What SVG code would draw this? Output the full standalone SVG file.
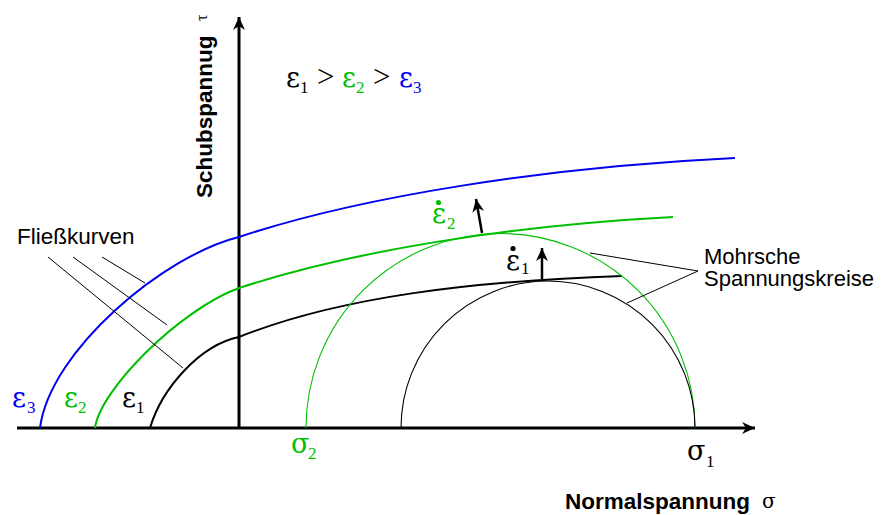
<svg xmlns="http://www.w3.org/2000/svg" width="883" height="515" viewBox="0 0 883 515">
<style>
.sans{font-family:"Liberation Sans",Arial,sans-serif;font-size:22px;fill:#000}
.bold{font-weight:bold;font-size:22.5px}
.sym{font-family:"Liberation Serif","Times New Roman",serif;font-size:28px}
.gt{font-family:"Liberation Serif","Times New Roman",serif;font-size:31px}
.gr{font-family:"DejaVu Serif","Liberation Serif",serif;font-size:27px}
.sub{font-family:"Liberation Serif","Times New Roman",serif;font-size:17px}
.k{fill:#000}.g{fill:#00bf00}.b{fill:#0000f0}
.axis{stroke:#000;stroke-width:3;fill:none}
.curve{fill:none;stroke-width:2}
.circ{fill:none;stroke-width:1.1}
.lead{stroke:#000;stroke-width:1;fill:none}
.arr{stroke:#000;stroke-width:2.5;fill:none}
</style>
<defs>
<marker id="ah" markerUnits="userSpaceOnUse" markerWidth="16" markerHeight="14" viewBox="-13 -7 14 14" refX="0" refY="0" orient="auto">
<path d="M0,0 L-13,-6 L-9,0 L-13,6 Z" fill="#000"/>
</marker>
<marker id="ah2" markerUnits="userSpaceOnUse" markerWidth="14" markerHeight="14" viewBox="-12 -6 13 12" refX="0" refY="0" orient="auto">
<path d="M0,0 L-12,-5.5 L-8.5,0 L-12,5.5 Z" fill="#000"/>
</marker>
</defs>

<g id="axes">
<line class="axis" x1="17" y1="428" x2="755" y2="428" marker-end="url(#ah)"/>
<line class="axis" x1="239" y1="428" x2="239" y2="17" marker-end="url(#ah)"/>
</g>

<g id="curves">
<path id="curve-e3" class="curve" stroke="#0000f0" d="M40,428 C50,350 165,255 239,237 C359,197 545,167 735,158"/>
<path id="curve-e2" class="curve" stroke="#00bf00" d="M95,428 C100,390 179,310 239,288 C349,252 503,226 673,217"/>
<path id="curve-e1" class="curve" stroke="#000" d="M150,428 C162,388 200,345 239,337 C339,297 472,281 622,276"/>
</g>

<g id="mohr-circles">
<path id="circle-2" class="circ" stroke="#00bf00" d="M306,428 A194.5,194.5 0 0 1 695,428"/>
<path id="circle-1" class="circ" stroke="#000" d="M401,428 A147,147 0 0 1 695,428"/>
</g>

<g id="connectors">
<line class="lead" x1="48" y1="257" x2="183" y2="368"/>
<line class="lead" x1="73" y1="257" x2="167" y2="325"/>
<line class="lead" x1="102" y1="257" x2="145" y2="283"/>
<line class="lead" x1="590" y1="253" x2="698" y2="271"/>
<line class="lead" x1="627" y1="303" x2="698" y2="271"/>
<line class="arr" x1="482" y1="233" x2="476" y2="199" marker-end="url(#ah2)"/>
<line class="arr" x1="542" y1="279" x2="542" y2="248" marker-end="url(#ah2)"/>
</g>

<g id="label-ylabel">
<text class="sans bold" transform="translate(212,198) rotate(-90)">Schubspannug</text>
<text class="sym" style="font-size:16px" transform="translate(207,21) rotate(-90)">τ</text>
</g>

<g id="label-xlabel">
<text class="sans bold" x="565" y="509">Normalspannung</text>
<text class="gr" style="font-size:20px" x="762" y="508">σ</text>
</g>

<g id="label-order">
<text class="sym" y="87"><tspan class="k gr" x="286">ε</tspan><tspan class="k sub" x="300" y="93">1</tspan><tspan class="k gt" x="317" y="87">&gt;</tspan><tspan class="g gr" x="342" y="87">ε</tspan><tspan class="g sub" x="356" y="93">2</tspan><tspan class="k gt" x="373" y="87">&gt;</tspan><tspan class="b gr" x="399" y="87">ε</tspan><tspan class="b sub" x="413" y="93">3</tspan></text>
</g>

<g id="label-fliess">
<text class="sans" x="17" y="244" style="font-size:22.5px">Fließkurven</text>
</g>

<g id="label-mohr">
<text class="sans"><tspan x="704" y="264">Mohrsche</tspan><tspan x="704" y="286">Spannungskreise</tspan></text>
</g>

<g id="label-e3"><text class="gr b" y="407"><tspan x="12">ε</tspan><tspan class="sub" x="27" y="413">3</tspan></text></g>
<g id="label-e2"><text class="gr g" y="407"><tspan x="64">ε</tspan><tspan class="sub" x="78" y="413">2</tspan></text></g>
<g id="label-e1"><text class="gr k" y="407"><tspan x="122">ε</tspan><tspan class="sub" x="136" y="413">1</tspan></text></g>

<g id="label-e2dot">
<circle cx="438.5" cy="202.5" r="2.6" fill="#00bf00"/>
<text class="gr g" y="223"><tspan x="432">ε</tspan><tspan class="sub" x="447" y="229">2</tspan></text>
</g>
<g id="label-e1dot">
<circle cx="513" cy="248.5" r="2.6" fill="#000"/>
<text class="gr k" y="270"><tspan x="506">ε</tspan><tspan class="sub" x="521" y="274">1</tspan></text>
</g>

<g id="label-s2"><text class="gr g" y="453"><tspan x="291">σ</tspan><tspan class="sub" x="308" y="459">2</tspan></text></g>
<g id="label-s1"><text class="gr k" y="460"><tspan x="687">σ</tspan><tspan class="sub" x="706" y="467">1</tspan></text></g>
</svg>
